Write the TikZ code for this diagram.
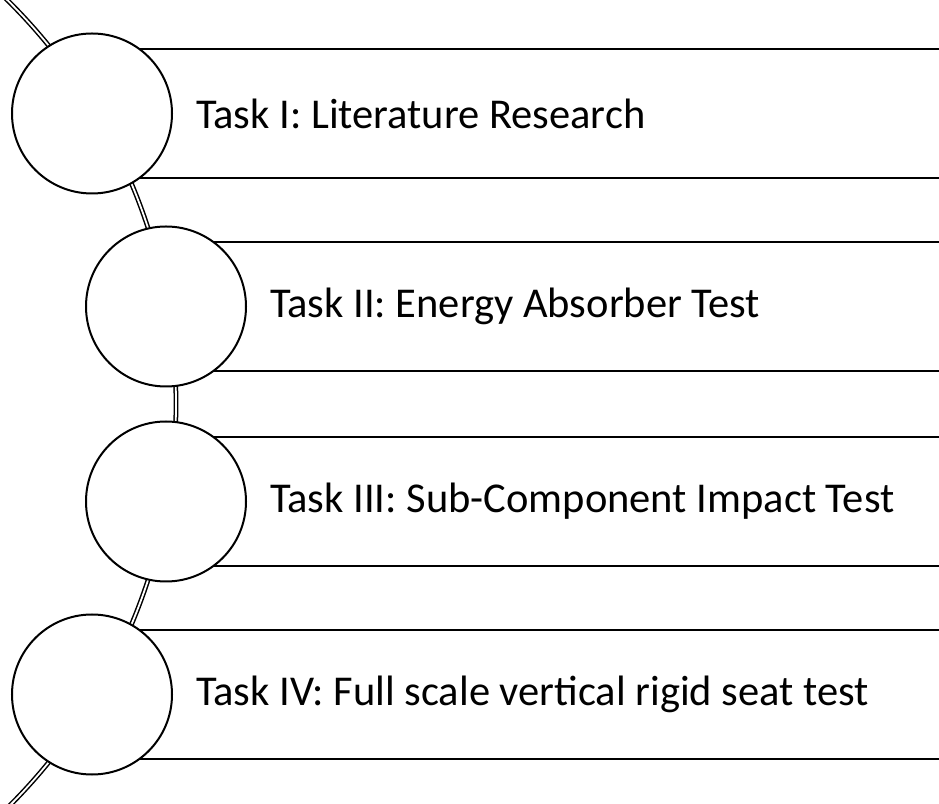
\documentclass[tikz,border=0pt]{standalone}
\usepackage{fontspec}
\setmainfont{Carlito}
\begin{document}
\begin{tikzpicture}[x=1pt,y=1pt,
  taskcircle/.style={circle, draw=black, fill=white, line width=2pt,
    minimum size=160pt, inner sep=0pt},
  bandline/.style={draw=black, line width=2pt},
  spine/.style={draw=black, double=white, double distance=1.8pt, line width=1.5pt},
  tasklabel/.style={anchor=west, inner sep=0pt, font=\fontsize{42.5}{51}\selectfont}]
  \useasboundingbox (0,0) rectangle (939,803);
  \begin{scope}
    \clip (0,0) rectangle (939,803);
    % curved spine linking the four circles
    \coordinate (hub) at (-392,399);
    \draw[spine] (hub) ++(47:568) arc[start angle=47, end angle=-47, radius=568];
    % horizontal band edges
    \coordinate (rim) at (939,0);
    \foreach \cx/\top/\bot [count=\i] in {92/754/625, 166/561/432, 166/366/237, 92/173/44}{
      \coordinate (b\i t) at (\cx,\top);
      \coordinate (b\i b) at (\cx,\bot);
      \draw[bandline] (b\i t) -- (b\i t -| rim);
      \draw[bandline] (b\i b) -- (b\i b -| rim);
    }
  \end{scope}
  % task circles
  \node[taskcircle] (c1) at (92,689.5) {};
  \node[taskcircle] (c2) at (166,496.5) {};
  \node[taskcircle] (c3) at (166,301.5) {};
  \node[taskcircle] (c4) at (92,108.5) {};
  % task labels
  \node[tasklabel] (t1) at ([xshift=23pt]c1.east) {Task I: Literature Research};
  \node[tasklabel] (t2) at ([xshift=23pt]c2.east) {Task II: Energy Absorber Test};
  \node[tasklabel] (t3) at ([xshift=23pt]c3.east) {Task III: Sub-Component Impact Test};
  \node[tasklabel] (t4) at ([xshift=23pt]c4.east) {Task IV: Full scale vertical rigid seat test};
\end{tikzpicture}
\end{document}
